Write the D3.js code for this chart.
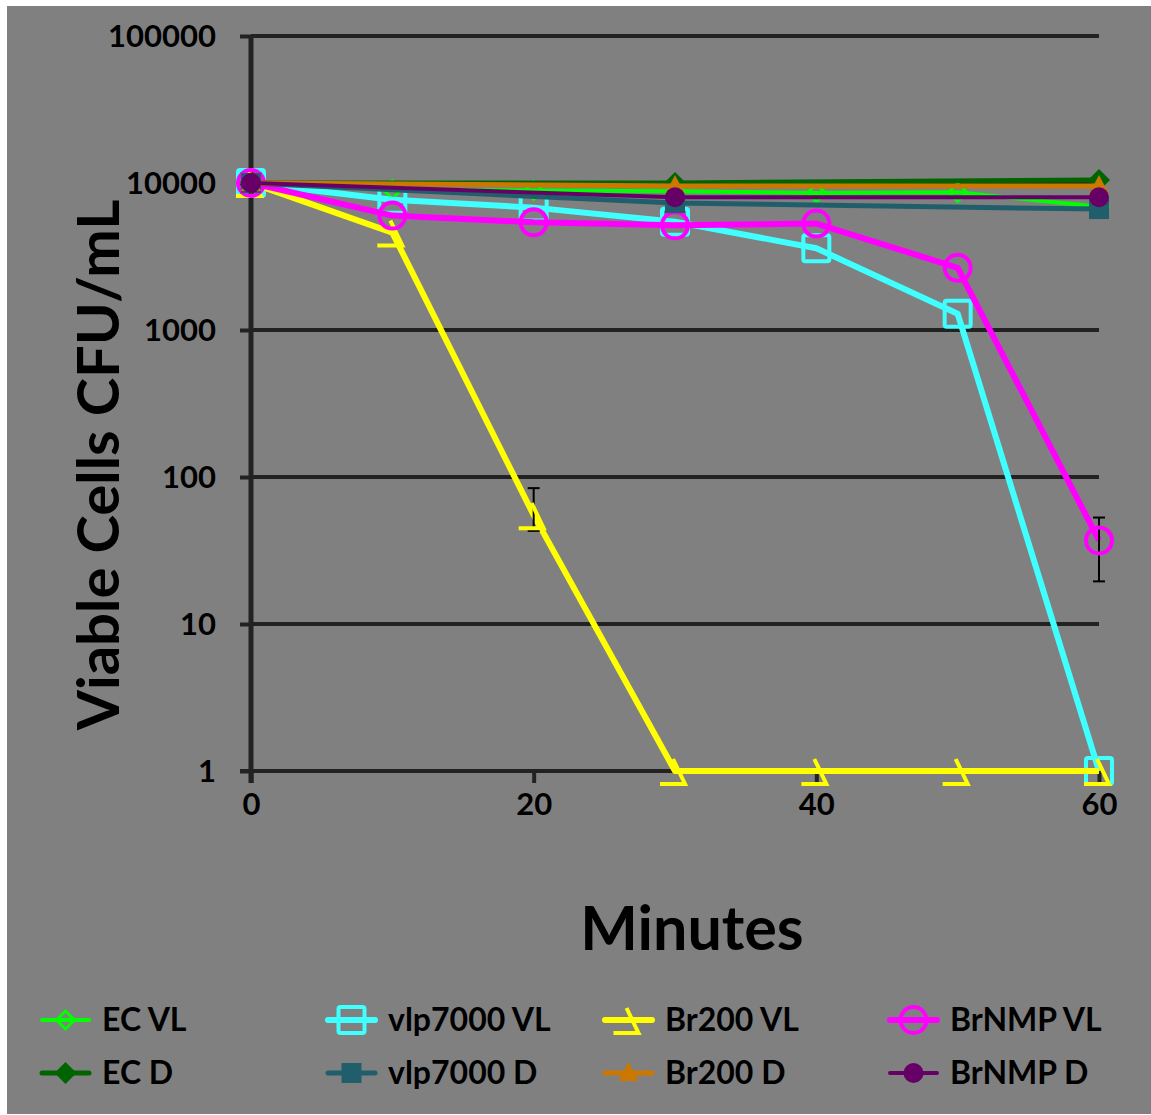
<!DOCTYPE html>
<html>
<head>
<meta charset="utf-8">
<script src="https://cdn.jsdelivr.net/npm/d3@7"></script>
<style>
  html, body { margin: 0; padding: 0; background: #fff; }
  svg { display: block; }
  text { font-family: Lato, "Open Sans", sans-serif; font-weight: 700; fill: #000; }
</style>
</head>
<body>
<svg id="chart" width="1151" height="1115"></svg>
<script>
// Time points (minutes)
const minutes = [0, 10, 20, 30, 40, 50, 60];

// Viable cell counts (CFU/mL) per treatment; null = not sampled
const ecVL      = [10000, 9000, 8900, 8800, 8550, 8650, 6900];
const ecD       = [10000, null, null, 10000, null, null, 10500];
const vlpVL     = [10000, 7700, 6800, 5450, 3600, 1290, 1];
const vlpD      = [10000, null, null, 7300, null, null, 6650];
const br200VL   = [10000, 4600, 55, 1, 1, 1, 1];
const br200D    = [10000, null, null, 9550, null, null, 9550];
const brnmpVL   = [10000, 6000, 5400, 5150, 5300, 2650, 37];
const brnmpD    = [10000, null, null, 8000, null, null, 8000];

// Error bars [minute, low, high]
const br200VLErr = [[20, 43, 84]];
const brnmpVLErr = [[60, 19.5, 53]];

const yTicks = [1, 10, 100, 1000, 10000, 100000];
const xTicks = [0, 20, 40, 60];

const series = [
  { name: "EC VL",      values: ecVL,    color: "#00FF00", width: 4, marker: "openDiamond" },
  { name: "vlp7000 VL", values: vlpVL,   color: "#40FFFF", width: 6, marker: "openSquare" },
  { name: "Br200 VL",   values: br200VL, color: "#FFFF00", width: 6, marker: "dash", err: br200VLErr },
  { name: "BrNMP VL",   values: brnmpVL, color: "#FF00FF", width: 6, marker: "openCircle", err: brnmpVLErr },
  { name: "EC D",       values: ecD,     color: "#006400", width: 5, marker: "diamond" },
  { name: "vlp7000 D",  values: vlpD,    color: "#215E6B", width: 5, marker: "square" },
  { name: "Br200 D",    values: br200D,  color: "#CC7700", width: 5, marker: "triangle" },
  { name: "BrNMP D",    values: brnmpD,  color: "#660066", width: 4, marker: "circle" }
];

const svg = d3.select("#chart");

// Panel background
svg.append("rect").attr("x", 7).attr("y", 6).attr("width", 1144).attr("height", 1108).attr("fill", "#808080");

const x = d3.scaleLinear().domain([0, 60]).range([251, 1099]);
const y = d3.scaleLog().domain([1, 100000]).range([771, 36]);

// Horizontal gridlines
svg.append("g").selectAll("line").data(yTicks.slice(1)).join("line")
  .attr("x1", x(0)).attr("x2", x(60))
  .attr("y1", d => y(d)).attr("y2", d => y(d))
  .attr("stroke", "#222").attr("stroke-width", 4);

// Axes
const yAxis = d3.axisLeft(y).tickValues(yTicks).tickFormat(d3.format("d")).tickSize(11).tickPadding(24);
const gy = svg.append("g").attr("transform", `translate(${x(0)},0)`).call(yAxis);
gy.select(".domain").attr("stroke", "#222").attr("stroke-width", 5).attr("d", `M0,${y(100000)}V${y(1) + 12}`);
gy.selectAll(".tick line").attr("stroke", "#222").attr("stroke-width", 4);
gy.selectAll(".tick text").style("font-size", "31px").attr("dy", "0.35em");

const xAxis = d3.axisBottom(x).tickValues(xTicks).tickSize(12).tickPadding(10);
const gx = svg.append("g").attr("transform", `translate(0,${y(1)})`).call(xAxis);
gx.select(".domain").attr("stroke", "#222").attr("stroke-width", 4).attr("d", `M${x(0) - 11},0H${x(60)}`);
gx.selectAll(".tick line").attr("stroke", "#222").attr("stroke-width", 4);
gx.selectAll(".tick text").style("font-size", "31px");
svg.selectAll(".tick text").attr("fill", "#000").style("font-family", "Lato, 'Open Sans', sans-serif").style("font-weight", 700);

// Axis titles
svg.append("text").attr("x", 692).attr("y", 950).attr("text-anchor", "middle")
  .style("font-size", "61px").text("Minutes");
svg.append("text").attr("transform", "translate(119,465) rotate(-90)").attr("text-anchor", "middle")
  .style("font-size", "58px").text("Viable Cells CFU/mL");

// Marker drawing
function drawMarker(g, type, color) {
  switch (type) {
    case "openDiamond":
      g.append("path").attr("d", "M0,-9L9,0L0,9L-9,0Z").attr("fill", "none").attr("stroke", color).attr("stroke-width", 3);
      break;
    case "openSquare":
      g.append("rect").attr("x", -13).attr("y", -13).attr("width", 26).attr("height", 26).attr("rx", 2)
        .attr("fill", "none").attr("stroke", color).attr("stroke-width", 4);
      break;
    case "dash":
      g.append("path").attr("d", "M-15,13H10L-2,-12").attr("fill", "none").attr("stroke", color).attr("stroke-width", 4);
      break;
    case "openCircle":
      g.append("circle").attr("r", 13).attr("fill", "none").attr("stroke", color).attr("stroke-width", 4);
      break;
    case "diamond":
      g.append("path").attr("d", "M0,-11L11,0L0,11L-11,0Z").attr("fill", color);
      break;
    case "square":
      g.append("rect").attr("x", -10).attr("y", -10).attr("width", 20).attr("height", 20).attr("fill", color);
      break;
    case "triangle":
      g.append("path").attr("d", "M0,-11L10,8H-10Z").attr("fill", color);
      break;
    case "circle":
      g.append("circle").attr("r", 10).attr("fill", color);
      break;
  }
}

series.forEach(s => {
  const pts = s.values.map((v, i) => [minutes[i], v]).filter(p => p[1] != null);
  const line = d3.line().x(p => x(p[0])).y(p => y(p[1]));
  const g = svg.append("g");
  g.append("path").datum(pts).attr("d", line)
    .attr("fill", "none").attr("stroke", s.color).attr("stroke-width", s.width).attr("stroke-linejoin", "round");
  if (s.err) {
    s.err.forEach(([m, lo, hi]) => {
      const eg = g.append("g").attr("stroke", "#000").attr("stroke-width", 2);
      eg.append("line").attr("x1", x(m)).attr("x2", x(m)).attr("y1", y(lo)).attr("y2", y(hi));
      eg.append("line").attr("x1", x(m) - 6).attr("x2", x(m) + 6).attr("y1", y(lo)).attr("y2", y(lo));
      eg.append("line").attr("x1", x(m) - 6).attr("x2", x(m) + 6).attr("y1", y(hi)).attr("y2", y(hi));
    });
  }
  pts.forEach(p => {
    drawMarker(g.append("g").attr("transform", `translate(${x(p[0])},${y(p[1])})`), s.marker, s.color);
  });
});

// Legend: 4 columns x 2 rows
const legendCols = [42, 328, 605, 890];
const legendRows = [1020, 1073];
series.forEach((s, i) => {
  const col = i % 4, row = Math.floor(i / 4);
  const lg = svg.append("g").attr("transform", `translate(${legendCols[col]},${legendRows[row]})`);
  lg.append("line").attr("x1", 0).attr("x2", 47).attr("y1", 0).attr("y2", 0)
    .attr("stroke", s.color).attr("stroke-width", s.width).attr("stroke-linecap", "round");
  drawMarker(lg.append("g").attr("transform", "translate(23.5,0)"), s.marker, s.color);
  lg.append("text").attr("x", 60).attr("y", 0).attr("dy", "0.35em").style("font-size", "32px").text(s.name);
});
</script>
</body>
</html>
